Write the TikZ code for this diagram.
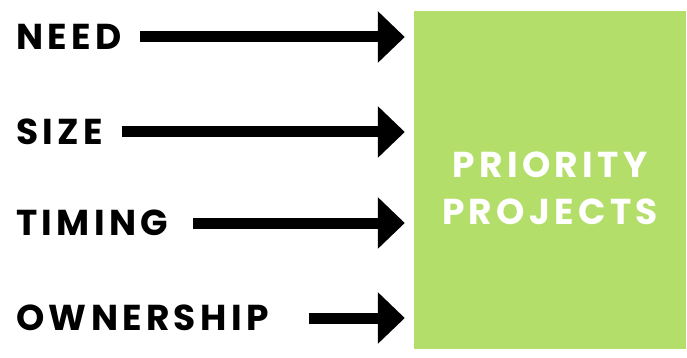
\documentclass[tikz,border=0pt]{standalone}
\usepackage{fontspec}
\newfontfamily\tagfont{Poppins}[LetterSpace=12]
\definecolor{prioritygreen}{HTML}{B3DE69}
\usetikzlibrary{positioning,arrows.meta}

\begin{document}
\begin{tikzpicture}[
  x=1pt, y=-1pt,
  tag/.style={anchor=west, inner sep=0pt, text height=25pt, text depth=0pt, font=\tagfont\bfseries\fontsize{36}{36}\selectfont},
  goal/.style={fill=prioritygreen, minimum width=272pt, minimum height=338pt, inner sep=0pt},
  goaltext/.style={align=center, inner sep=0pt, text=white, font=\tagfont\bfseries\fontsize{36}{47}\selectfont},
  arr/.style={line width=11pt, -{Triangle[length=27pt,width=50pt]}, shorten >=9pt},
]
  \useasboundingbox (0,0) rectangle (687,358);
  \node[goal] (box) at (550,180) {};
  \node[goaltext] (title) at ([yshift=-8pt]box.center) {PRIORITY\\PROJECTS};
  \node[tag] (need) at (16,37) {NEED};
  \node[tag] (size) at (16,132) {SIZE};
  \node[tag] (timing) at (16,223) {TIMING};
  \node[tag] (owner) at (16,318) {OWNERSHIP};
  \draw[arr] ([xshift=18pt]need.east) -- (need -| box.west);
  \draw[arr] ([xshift=19pt]size.east) -- (size -| box.west);
  \draw[arr] ([xshift=25pt]timing.east) -- (timing -| box.west);
  \draw[arr] ([xshift=40pt]owner.east) -- (owner -| box.west);
\end{tikzpicture}
\end{document}
